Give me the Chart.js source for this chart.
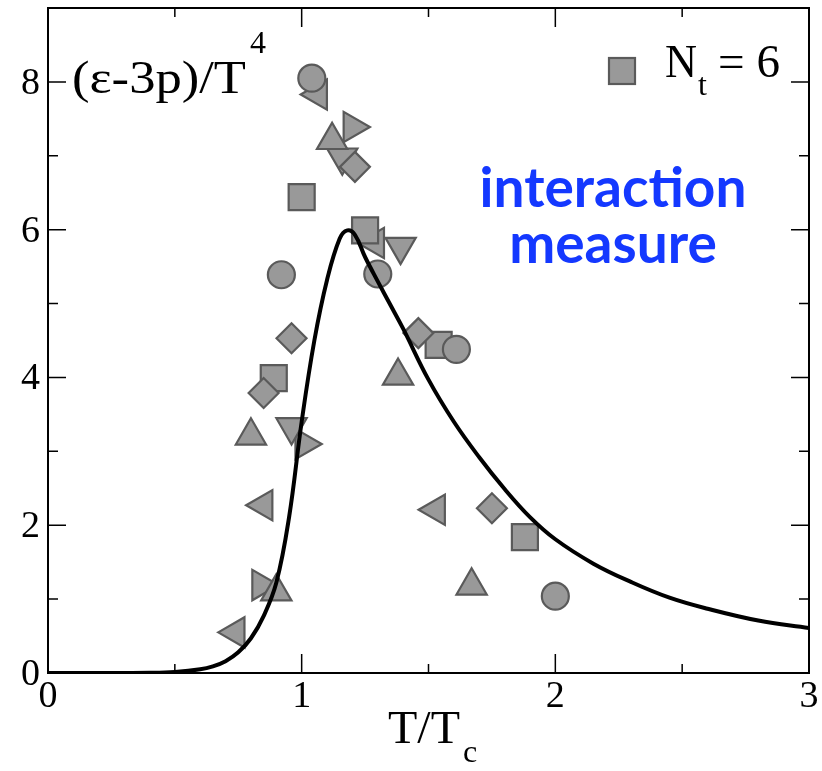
<!DOCTYPE html>
<html>
<head>
<meta charset="utf-8">
<script src="https://cdn.jsdelivr.net/npm/chart.js@4/dist/chart.umd.min.js"></script>
<style>
  html, body { margin: 0; padding: 0; background: #fff; }
  #wrap { width: 822px; height: 771px; }
</style>
</head>
<body>
<div id="wrap"><canvas id="chart" width="822" height="771"></canvas></div>
<script>
// Lattice points, grouped by marker shape
const circleX = [1.04, 0.92, 1.30, 1.61, 2.00];
const circleY = [8.05, 5.39, 5.40, 4.38, 1.04];
const squareX = [1.00, 1.25, 0.89, 1.54, 1.88];
const squareY = [6.44, 5.99, 3.99, 4.44, 1.84];
const diamondX = [1.21, 0.96, 0.85, 1.46, 1.75];
const diamondY = [6.85, 4.53, 3.79, 4.60, 2.23];
const triUpX = [1.12, 0.80, 0.90, 1.38, 1.67];
const triUpY = [7.21, 3.21, 1.10, 4.02, 1.18];
const triDownX = [1.16, 1.39, 0.96];
const triDownY = [6.98, 5.77, 3.33];
const triLeftX = [1.065, 1.29, 0.85, 0.74, 1.53];
const triLeftY = [7.83, 5.82, 2.27, 0.55, 2.21];
const triRightX = [1.20, 1.01, 0.84];
const triRightY = [7.39, 3.10, 1.19];

// Model curve
const curveX = [0, 0.2, 0.4, 0.5, 0.6, 0.65, 0.7, 0.75, 0.8, 0.85, 0.9, 0.95, 1.0, 1.05, 1.1, 1.15, 1.18, 1.21, 1.25, 1.3, 1.35, 1.4, 1.5, 1.6, 1.7, 1.8, 1.9, 2.0, 2.15, 2.3, 2.45, 2.6, 2.8, 3.0];
const curveY = [0, 0, 0.004, 0.015, 0.05, 0.09, 0.16, 0.28, 0.47, 0.77, 1.22, 2.1, 3.4, 4.5, 5.32, 5.88, 5.99, 5.93, 5.63, 5.3, 4.98, 4.66, 3.97, 3.40, 2.92, 2.49, 2.11, 1.81, 1.48, 1.23, 1.02, 0.87, 0.71, 0.61];

// Axis ticks
const xMajor = [0, 1, 2, 3];
const xMinor = [0.5, 1.5, 2.5];
const yMajor = [0, 2, 4, 6, 8];
const yMinor = [1, 3, 5, 7];

const FILL = '#999999';
const EDGE = '#5a5a5a';
const SERIF = '"Liberation Serif", "DejaVu Serif", serif';

function pts(xs, ys) {
  return xs.map((x, i) => ({ x: x, y: ys[i] }));
}

function markerSet(xs, ys, style, radius, rotation) {
  return {
    type: 'scatter',
    data: pts(xs, ys),
    pointStyle: style,
    pointRadius: radius,
    pointHoverRadius: radius,
    rotation: rotation || 0,
    backgroundColor: FILL,
    borderColor: EDGE,
    pointBorderWidth: 2.2,
    order: 2
  };
}

// draw text from x, stretched so it spans the given width
function fitText(ctx, text, x, y, font, width) {
  ctx.font = font;
  const w = ctx.measureText(text).width;
  ctx.save();
  ctx.translate(x, y);
  ctx.scale(width / w, 1);
  ctx.fillText(text, 0, 0);
  ctx.restore();
}

// Frame, inward ticks and all text
const decorations = {
  id: 'decorations',
  afterDraw(chart) {
    const ctx = chart.ctx;
    const a = chart.chartArea;
    const xs = chart.scales.x;
    const ys = chart.scales.y;
    ctx.save();

    // frame
    ctx.strokeStyle = '#000';
    ctx.lineWidth = 2;
    ctx.strokeRect(a.left, a.top, a.right - a.left, a.bottom - a.top);

    // ticks on all four sides
    ctx.lineWidth = 1.5;
    ctx.beginPath();
    const xt = (v, len) => {
      const px = xs.getPixelForValue(v);
      ctx.moveTo(px, a.bottom); ctx.lineTo(px, a.bottom - len);
      ctx.moveTo(px, a.top); ctx.lineTo(px, a.top + len);
    };
    const yt = (v, len) => {
      const py = ys.getPixelForValue(v);
      ctx.moveTo(a.left, py); ctx.lineTo(a.left + len, py);
      ctx.moveTo(a.right, py); ctx.lineTo(a.right - len, py);
    };
    xMajor.forEach(v => xt(v, 19));
    xMinor.forEach(v => xt(v, 9));
    yMajor.forEach(v => yt(v, 18));
    yMinor.forEach(v => yt(v, 10));
    ctx.stroke();

    // tick labels
    ctx.fillStyle = '#000';
    ctx.font = '38px ' + SERIF;
    ctx.textAlign = 'right';
    ctx.textBaseline = 'middle';
    yMajor.forEach(v => ctx.fillText(String(v), a.left - 8, ys.getPixelForValue(v) + 2));
    ctx.textAlign = 'center';
    ctx.textBaseline = 'top';
    xMajor.forEach(v => ctx.fillText(String(v), xs.getPixelForValue(v), a.bottom + 5));

    ctx.textAlign = 'left';
    ctx.textBaseline = 'alphabetic';

    // x axis title T/Tc
    fitText(ctx, 'T/T', 388, 743, '47px ' + SERIF, 72);
    ctx.font = '32px ' + SERIF;
    ctx.fillText('c', 463, 762);

    // y label (ε-3p)/T^4
    fitText(ctx, '(\u03b5-3p)/T', 72, 93, '47px ' + SERIF, 174);
    ctx.font = '32px ' + SERIF;
    ctx.fillText('4', 250, 53);

    // legend
    ctx.fillStyle = FILL;
    ctx.strokeStyle = EDGE;
    ctx.lineWidth = 2.2;
    ctx.fillRect(609, 58, 26, 26);
    ctx.strokeRect(609, 58, 26, 26);
    ctx.fillStyle = '#000';
    fitText(ctx, 'N', 665, 77, '46px ' + SERIF, 32);
    ctx.font = '32px ' + SERIF;
    ctx.fillText('t', 698, 95);
    fitText(ctx, '= 6', 718, 77, '46px ' + SERIF, 62);

    // annotation
    ctx.fillStyle = '#1438ff';
    ctx.textAlign = 'center';
    ctx.font = 'bold 40px Lato, "DejaVu Sans", sans-serif';
    const tw = ctx.measureText('interaction').width;
    const size = Math.round(40 * 267 / tw);
    ctx.font = 'bold ' + size + 'px Lato, "DejaVu Sans", sans-serif';
    ctx.fillText('interaction', 613, 207);
    ctx.fillText('measure', 613, 263);

    ctx.restore();
  }
};

new Chart(document.getElementById('chart'), {
  type: 'scatter',
  data: {
    datasets: [
      {
        type: 'line',
        data: pts(curveX, curveY),
        borderColor: '#000',
        borderWidth: 4,
        pointRadius: 0,
        fill: false,
        tension: 0.4,
        order: 1
      },
      markerSet(circleX, circleY, 'circle', 13.5),
      markerSet(diamondX, diamondY, 'rectRot', 15),
      markerSet(squareX, squareY, 'rect', 18.4),
      markerSet(triUpX, triUpY, 'triangle', 17.5),
      markerSet(triDownX, triDownY, 'triangle', 17.5, 180),
      markerSet(triLeftX, triLeftY, 'triangle', 17.5, -90),
      markerSet(triRightX, triRightY, 'triangle', 17.5, 90)
    ]
  },
  options: {
    responsive: false,
    animation: false,
    events: [],
    layout: { autoPadding: false, padding: { left: 48, right: 13, top: 8, bottom: 98 } },
    plugins: { legend: { display: false }, tooltip: { enabled: false } },
    scales: {
      x: { type: 'linear', min: 0, max: 3, display: false },
      y: { type: 'linear', min: 0, max: 9, display: false }
    }
  },
  plugins: [decorations]
});
</script>
</body>
</html>
